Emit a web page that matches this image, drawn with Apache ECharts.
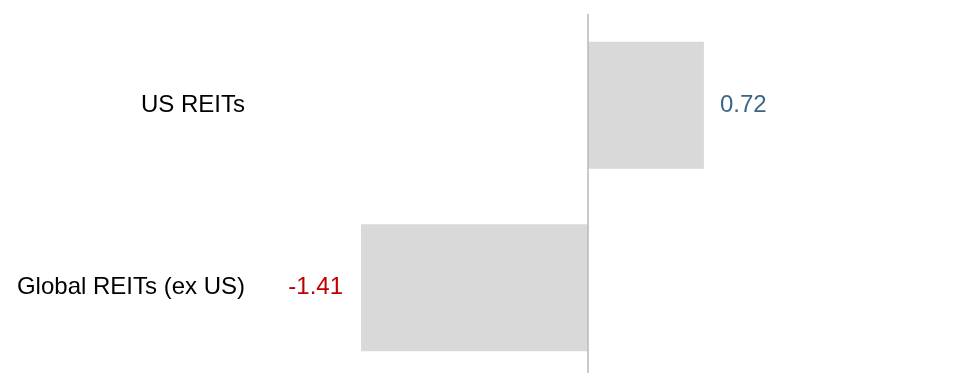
<!DOCTYPE html>
<html>
<head>
<meta charset="utf-8">
<script src="https://cdn.jsdelivr.net/npm/echarts@6/dist/echarts.min.js"></script>
<style>
  html, body { margin: 0; padding: 0; background: #fff; }
  #chart { width: 979px; height: 373px; }
</style>
</head>
<body>
<div id="chart"></div>
<script>
// categories, top to bottom
const categories = ['US REITs', 'Global REITs (ex US)'];
const values = [0.72, -1.41];

const POS_COLOR = '#3a6787';
const NEG_COLOR = '#c00000';

const chart = echarts.init(document.getElementById('chart'));

const seriesData = values.map(v => ({
  value: v,
  label: {
    position: v < 0 ? 'left' : 'right',
    distance: v < 0 ? 18 : 16,
    color: v < 0 ? NEG_COLOR : POS_COLOR
  }
}));

chart.setOption({
  animation: false,
  grid: { left: 266, right: 69, top: 14, height: 365, outerBoundsMode: 'none', containLabel: false },
  xAxis: {
    type: 'value',
    min: -2,
    max: 2,
    show: false
  },
  yAxis: {
    type: 'category',
    data: categories,
    inverse: true,
    axisLine: { show: false },
    axisTick: { show: false },
    axisLabel: {
      margin: 21,
      color: '#000',
      fontSize: 24,
      fontFamily: 'Liberation Sans, Arial, sans-serif'
    }
  },
  series: [{
    type: 'bar',
    data: seriesData,
    barWidth: 127,
    itemStyle: { color: '#d9d9d9' },
    label: {
      show: true,
      fontSize: 24,
      fontFamily: 'Liberation Sans, Arial, sans-serif',
      formatter: p => p.value.toFixed(2)
    },
    markLine: {
      silent: true,
      symbol: 'none',
      label: { show: false },
      lineStyle: { color: '#b8b8b8', width: 1.5, type: 'solid' },
      data: [{ xAxis: 0 }]
    }
  }]
});
</script>
</body>
</html>
